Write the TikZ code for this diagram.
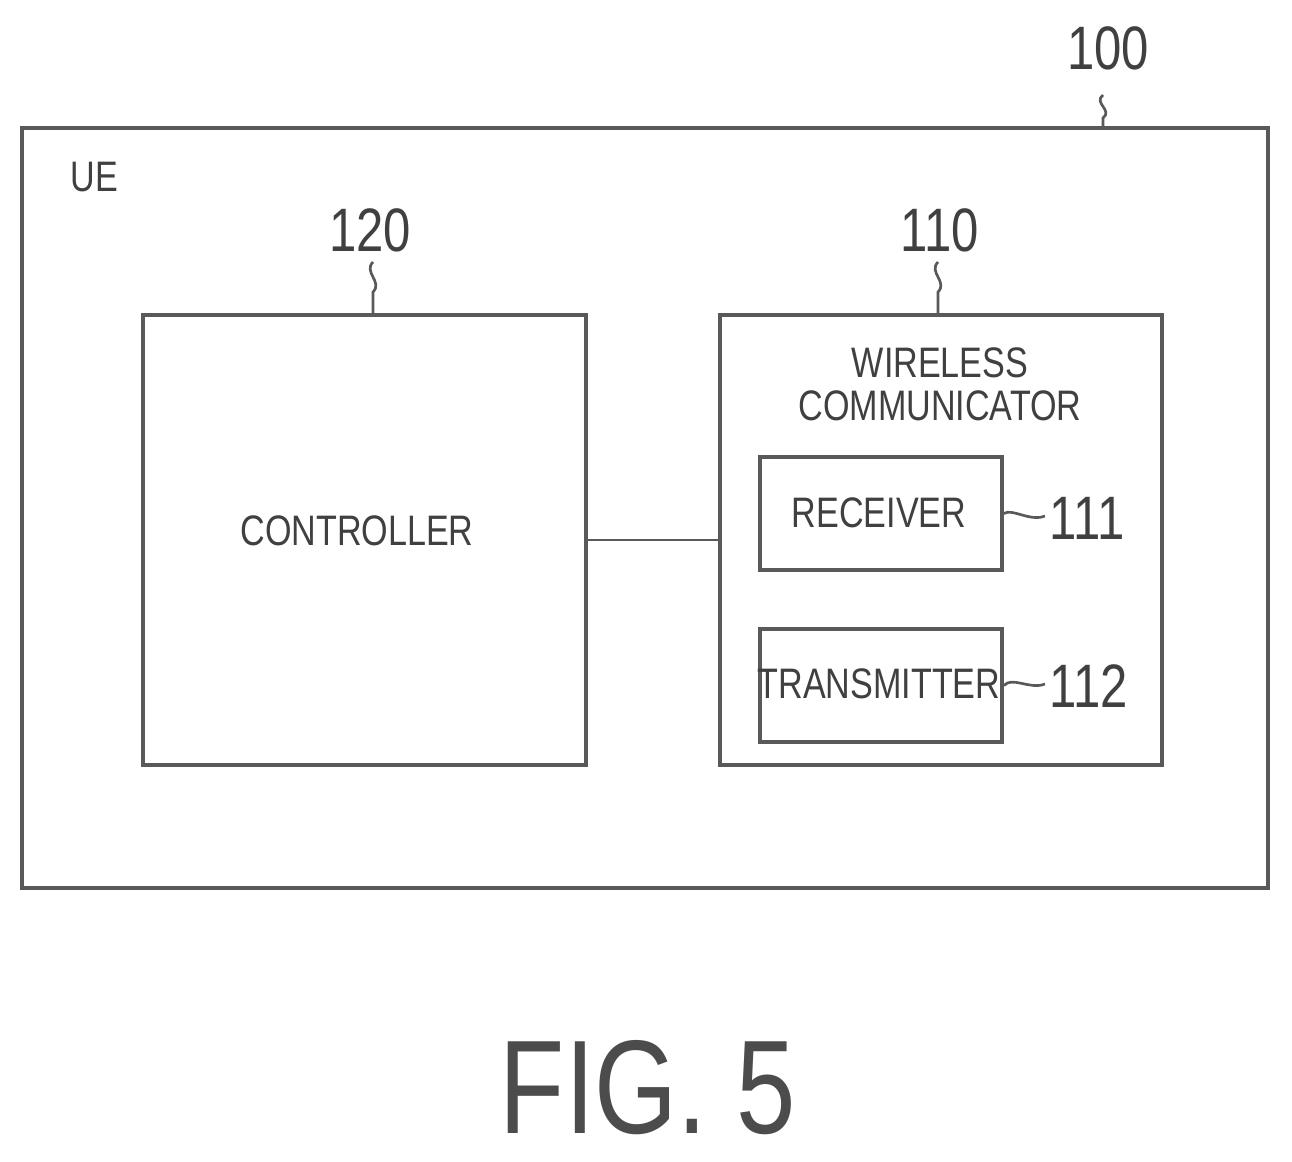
\documentclass[tikz,border=0pt]{standalone}
\usepackage{fontspec}
\setmainfont{Liberation Sans}[FakeStretch=0.8]
\begin{document}
\begin{tikzpicture}[x=0.75pt,y=-0.75pt,
  box/.style={draw=black!65,line width=3pt},
  lbl/.style={font=\fontsize{32}{36}\selectfont,text=black!75,align=center},
  num/.style={font=\fontsize{46}{50}\selectfont,text=black!75},
  sq/.style={draw=black!65,line width=2pt}]
\useasboundingbox (0,0) rectangle (1292,1161);
\draw[box] (22,128) rectangle (1268,888);
\node[lbl,anchor=west] (ue) at (66,177) {UE};
\node[num] (n100) at (1108,48) {100};
\draw[sq] (1103,95) .. controls (1093,103) and (1113,110) .. (1103,118) -- (1103,128);
\node[box,minimum width=443*0.75pt,minimum height=450*0.75pt,anchor=north west] (ctl) at (141,313) {};
\node[lbl] at (357,531) {CONTROLLER};
\node[num] (n120) at (370,230) {120};
\draw[sq] (373,262) .. controls (363,272) and (383,282) .. (373,292) -- (373,313);
\node[box,minimum width=442*0.75pt,minimum height=450*0.75pt,anchor=north west] (wc) at (718,313) {};
\node[lbl] at (940,384) {WIRELESS\\[-4pt]COMMUNICATOR};
\node[num] (n110) at (940,230) {110};
\draw[sq] (938,262) .. controls (928,272) and (948,282) .. (938,292) -- (938,313);
\node[box,minimum width=242*0.75pt,minimum height=113*0.75pt,anchor=north west] (rx) at (758,455) {};
\node[lbl] at (879,513) {RECEIVER};
\node[num,anchor=west] (n111) at (1045,518) {111};
\draw[sq] (rx.east) .. controls (1012,508) and (1030,522) .. (1045,516);
\node[box,minimum width=242*0.75pt,minimum height=113*0.75pt,anchor=north west] (tx) at (758,627) {};
\node[lbl] at (879,684) {TRANSMITTER};
\node[num,anchor=west] (n112) at (1045,686) {112};
\draw[sq] (tx.east) .. controls (1012,676) and (1030,690) .. (1045,684);
\draw[black!65,line width=2pt] (584,540) -- (718,540);
\node[font=\fontsize{100}{110}\selectfont,text=black!70] (fig) at (648,1088) {FIG. 5};
\end{tikzpicture}
\end{document}
